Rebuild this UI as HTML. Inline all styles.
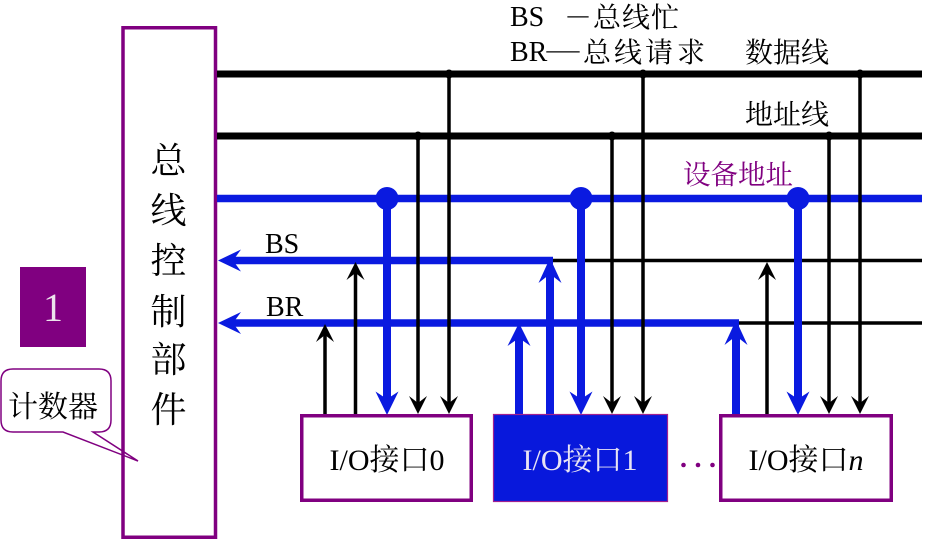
<!DOCTYPE html>
<html><head><meta charset="utf-8"><style>
html,body{margin:0;padding:0;background:#fff;width:938px;height:540px;overflow:hidden}
svg{display:block}
.lat{font-family:"Liberation Serif","Noto Serif CJK SC",serif}
.cjk{font-family:"Liberation Serif","Noto Serif CJK SC","Noto Sans CJK SC",serif}
</style></head><body>
<svg width="938" height="540" viewBox="0 0 938 540" xmlns="http://www.w3.org/2000/svg">
<rect width="938" height="540" fill="#fff"/>

<!-- callout -->
<path d="M13,369 H99 Q111,369 111,381 V420 Q111,432 99,432 H93 L138,461 L63,432 H13 Q1,432 1,420 V381 Q1,369 13,369 Z" fill="#fff" stroke="#800080" stroke-width="1.5"/>
<text x="53" y="417" text-anchor="middle" font-size="30" class="cjk" fill="#000">计数器</text>

<!-- purple square 1 -->
<rect x="20" y="267" width="66" height="80" fill="#800080"/>
<text x="53" y="321" text-anchor="middle" font-size="40" class="lat" fill="#ece4ec">1</text>

<!-- control box -->
<rect x="123" y="27.75" width="92.5" height="509.5" fill="none" stroke="#800080" stroke-width="3.5"/>
<g class="cjk" font-size="36" fill="#000" text-anchor="middle">
<text x="168.5" y="173">总</text>
<text x="168.5" y="223">线</text>
<text x="168.5" y="273">控</text>
<text x="168.5" y="324">制</text>
<text x="168.5" y="372">部</text>
<text x="168.5" y="422">件</text>
</g>

<!-- top legend -->
<text x="510" y="26" font-size="28" class="lat" fill="#000">BS</text>
<text x="564" y="27" font-size="28" class="cjk" fill="#000">－</text>
<text x="593 622 651" y="27" font-size="28" class="cjk" fill="#000">总线忙</text>
<text x="510" y="61" font-size="28" class="lat" fill="#000">BR</text>
<text x="541" y="62" font-size="28" class="cjk" fill="#000" textLength="44" lengthAdjust="spacingAndGlyphs">－</text>
<text x="583 614 645 677" y="62" font-size="28" class="cjk" fill="#000">总线请求</text>
<text x="745" y="62" font-size="28" class="cjk" fill="#000">数据线</text>
<text x="745" y="124" font-size="28" class="cjk" fill="#000">地址线</text>
<text x="683" y="184" font-size="27.5" class="cjk" fill="#800080">设备地址</text>

<!-- buses -->
<line x1="217" y1="74" x2="922" y2="74" stroke="#000" stroke-width="7"/>
<line x1="217" y1="136" x2="922" y2="136" stroke="#000" stroke-width="7"/>
<line x1="217" y1="198.5" x2="922" y2="198.5" stroke="#0a1ae0" stroke-width="7.5"/>

<!-- BS / BR lines -->
<line x1="550" y1="260.5" x2="922" y2="260.5" stroke="#000" stroke-width="3.5"/>
<line x1="736" y1="323" x2="922" y2="323" stroke="#000" stroke-width="3.5"/>
<line x1="232" y1="260.5" x2="553" y2="260.5" stroke="#0a1ae0" stroke-width="7.5"/>
<line x1="232" y1="323" x2="739" y2="323" stroke="#0a1ae0" stroke-width="7.5"/>
<polygon points="218,260.5 241,249.5 233,260.5 241,271.5" fill="#0a1ae0"/>
<polygon points="218,323 241,312 233,323 241,334" fill="#0a1ae0"/>
<text x="265" y="253" font-size="28" class="lat" fill="#000">BS</text>
<text x="266" y="316" font-size="28" class="lat" fill="#000">BR</text>

<!-- black down verticals -->
<g stroke="#000" stroke-width="3.5">
<line x1="418" y1="136" x2="418" y2="405"/>
<line x1="449" y1="74" x2="449" y2="405"/>
<line x1="612" y1="136" x2="612" y2="405"/>
<line x1="643" y1="74" x2="643" y2="405"/>
<line x1="829" y1="136" x2="829" y2="405"/>
<line x1="860" y1="74" x2="860" y2="405"/>
<!-- black up -->
<line x1="325" y1="414" x2="325" y2="334"/>
<line x1="355.5" y1="414" x2="355.5" y2="272"/>
<line x1="767" y1="414" x2="767" y2="272"/>
</g>
<g fill="#000">
<polygon points="418,414 409,396 418,403 427,396"/>
<polygon points="449,414 440,396 449,403 458,396"/>
<polygon points="612,414 603,396 612,403 621,396"/>
<polygon points="643,414 634,396 643,403 652,396"/>
<polygon points="829,414 820,396 829,403 838,396"/>
<polygon points="860,414 851,396 860,403 869,396"/>
<polygon points="325,324 316,342 325,335 334,342"/>
<polygon points="355.5,262 346.5,280 355.5,273 364.5,280"/>
<polygon points="767,262 758,280 767,273 776,280"/>
<circle cx="449" cy="74" r="4.5"/><circle cx="643" cy="74" r="4.5"/><circle cx="860" cy="74" r="4.5"/>
<circle cx="418" cy="136" r="4.5"/><circle cx="612" cy="136" r="4.5"/><circle cx="829" cy="136" r="4.5"/>
</g>

<!-- blue verticals -->
<g stroke="#0a1ae0" stroke-width="8">
<line x1="387" y1="198.5" x2="387" y2="402"/>
<line x1="581" y1="198.5" x2="581" y2="402"/>
<line x1="798" y1="198.5" x2="798" y2="402"/>
<line x1="519" y1="414" x2="519" y2="336"/>
<line x1="550" y1="414" x2="550" y2="272"/>
<line x1="736" y1="414" x2="736" y2="334"/>
</g>
<g fill="#0a1ae0">
<circle cx="387" cy="198.5" r="11.5"/><circle cx="581" cy="198.5" r="11.5"/><circle cx="798" cy="198.5" r="11.5"/>
<polygon points="387,415 375.5,391.5 387,399 398.5,391.5"/>
<polygon points="581,415 569.5,391.5 581,399 592.5,391.5"/>
<polygon points="798,415 786.5,391.5 798,399 809.5,391.5"/>
<polygon points="519,323 507.5,346 519,338 530.5,346"/>
<polygon points="550,258 538.5,283 550,274 561.5,283"/>
<polygon points="736,320 724.5,345 736,336 747.5,345"/>
</g>

<!-- interface boxes -->
<rect x="301.75" y="415.75" width="169.5" height="84.5" fill="#fff" stroke="#800080" stroke-width="3.5"/>
<rect x="493.5" y="414.5" width="174" height="87" fill="#0818dc" stroke="#a02090" stroke-width="1.2"/>
<rect x="720.75" y="415.75" width="170.5" height="84.5" fill="#fff" stroke="#800080" stroke-width="3.5"/>
<text x="387" y="470" text-anchor="middle" font-size="30" class="cjk" fill="#000">I/O接口0</text>
<text x="580" y="470" text-anchor="middle" font-size="30" class="cjk" fill="#e8e4f4">I/O接口1</text>
<text x="806" y="470" text-anchor="middle" font-size="30" class="cjk" fill="#000">I/O接口<tspan font-style="italic">n</tspan></text>

<g fill="#800080">
<circle cx="683.5" cy="465" r="2.3"/><circle cx="698" cy="465" r="2.3"/><circle cx="712.5" cy="465" r="2.3"/>
</g>
</svg>
</body></html>
